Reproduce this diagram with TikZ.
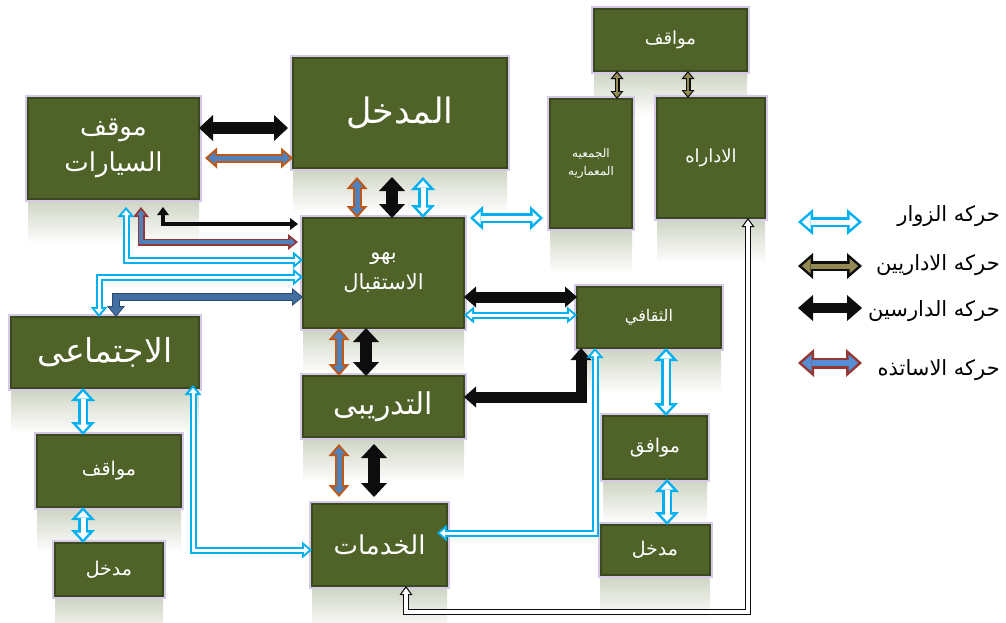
\documentclass[tikz,border=0pt]{standalone}
\usepackage{fontspec}
\usepackage{tikz}
\usetikzlibrary{positioning,arrows.meta,backgrounds}
\TeXXeTstate=1
\newfontfamily\arabicfont[Script=Arabic]{DejaVu Sans}
\newcommand\artext[1]{{\arabicfont\beginR#1\endR}}

\definecolor{boxgreen}{RGB}{79,98,40}
\definecolor{boxedge}{RGB}{58,74,28}
\definecolor{glow}{RGB}{214,200,232}
\definecolor{refl}{RGB}{208,214,198}
\definecolor{visitline}{RGB}{0,176,240}
\definecolor{proffill}{RGB}{79,129,189}
\definecolor{profedge}{RGB}{190,88,20}
\definecolor{profred}{RGB}{150,55,52}
\definecolor{keyblue}{RGB}{85,142,213}
\definecolor{steelfill}{RGB}{66,110,162}
\definecolor{steeledge}{RGB}{44,74,112}
\definecolor{khaki}{RGB}{148,138,84}
\definecolor{inkblack}{RGB}{13,13,13}

\tikzset{
  headpair/.style 2 args={arrows={{Triangle[width=#1,length=#2,line width=0pt]}-{Triangle[width=#1,length=#2,line width=0pt]}}},
  % outline, fill, shaft, head width, head length, outline width
  block/.code n args={6}{%
    \pgfmathsetmacro\bkAng{atan((#4/2)/#5)}%
    \pgfmathsetmacro\bkIn{#6/sin(\bkAng)}%
    \pgfmathsetmacro\bkLen{#5-#6-\bkIn}%
    \pgfmathsetmacro\bkWid{2*\bkLen*tan(\bkAng)}%
    \pgfmathsetmacro\bkShaft{#3-2*#6}%
    \tikzset{draw=#1, line width=#3pt, headpair={#4pt}{#5pt},
      postaction={draw=#2, line width=\bkShaft pt, headpair={\bkWid pt}{\bkLen pt},
        shorten <=\bkIn pt, shorten >=\bkIn pt}}%
  }
}

\begin{document}
\begin{tikzpicture}[
        x=1pt, y=-1pt,
        box/.style={draw=boxedge, line width=2pt, fill=boxgreen, text=white, align=center,
            inner sep=0pt, outer sep=0pt, preaction={draw=glow, line width=6pt}},
        legendtext/.style={text=black, font=\fontsize{21}{26}\selectfont, inner sep=0pt},
        visitor/.style={block={visitline}{white}{10}{24}{13}{2.5}},
        visitorthin/.style={block={visitline}{white}{7}{17}{10}{2}},
        student/.style={block={inkblack}{inkblack}{12}{26}{14}{1}},
        studentmid/.style={block={inkblack}{inkblack}{11}{21}{12}{1}},
        studentthin/.style={block={inkblack}{inkblack}{4}{12}{8}{1}},
        prof/.style={block={profedge}{proffill}{9}{21}{12}{2}},
        profthin/.style={block={profred}{proffill}{7}{16}{10}{1.8}},
        steel/.style={block={steeledge}{steelfill}{8}{18}{11}{1}},
        staff/.style={block={inkblack}{khaki}{5}{13}{8}{1.2}},
        staffwhite/.style={block={inkblack}{white}{6}{13}{9}{1.2}},
        visitorkey/.style={block={visitline}{white}{10}{26}{15}{2.5}},
        adminkey/.style={block={inkblack}{khaki}{10}{26}{15}{2.5}},
        studentkey/.style={block={inkblack}{inkblack}{10}{26}{15}{1}},
        profkey/.style={block={profred}{keyblue}{11}{28}{16}{2.5}}
    ]
    \useasboundingbox (0,0) rectangle (1006,622);

    % Main halls
    \node[box, minimum width=214pt, minimum height=110pt, font=\fontsize{35}{40}\selectfont] (entrance) at (400,113) {\artext{المدخل}};
    \node[box, minimum width=171pt, minimum height=101pt, font=\fontsize{26}{36}\selectfont] (parking) at (113.5,148.5) {\artext{موقف}\\\artext{السيارات}};
    \node[box, minimum width=161pt, minimum height=110pt, font=\fontsize{21}{30}\selectfont] (lobby) at (383.5,273) {\artext{بهو}\\\artext{الاستقبال}};
    \node[box, minimum width=161pt, minimum height=61pt, font=\fontsize{30}{34}\selectfont, below=48pt of lobby] (training) {\artext{التدريبى}};
    \node[box, minimum width=135pt, minimum height=82pt, font=\fontsize{26}{30}\selectfont] (services) at (379.5,545) {\artext{الخدمات}};

    % Right wing
    \node[box, minimum width=153pt, minimum height=62pt, font=\fontsize{18}{22}\selectfont] (topparking) at (670.5,40) {\artext{مواقف}};
    \node[box, minimum width=82pt, minimum height=129pt, font=\fontsize{12}{18}\selectfont] (society) at (591,163.5) {\artext{الجمعيه}\\\artext{المعماريه}};
    \node[box, minimum width=108pt, minimum height=120pt, font=\fontsize{18}{20}\selectfont] (admin) at (711,158) {\artext{الاداراه}};
    \node[box, minimum width=144pt, minimum height=61pt, font=\fontsize{16}{20}\selectfont] (culture) at (649,317.5) {\artext{الثقافي}};
    \node[box, minimum width=104pt, minimum height=63pt, font=\fontsize{19}{22}\selectfont] (parkingR) at (655,447.5) {\artext{موافق}};
    \node[box, minimum width=109pt, minimum height=50pt, font=\fontsize{19}{22}\selectfont, below=46pt of parkingR] (entranceR) {\artext{مدخل}};

    % Left wing
    \node[box, minimum width=188pt, minimum height=71pt, font=\fontsize{33}{36}\selectfont] (social) at (105,352.5) {\artext{الاجتماعى}};
    \node[box, minimum width=144pt, minimum height=72pt, font=\fontsize{19}{22}\selectfont] (parkingL) at (109,471) {\artext{مواقف}};
    \node[box, minimum width=108pt, minimum height=53pt, font=\fontsize{19}{22}\selectfont, below=36pt of parkingL] (entranceL) {\artext{مدخل}};

    % Reflections under the boxes
    \begin{scope}[on background layer]
        \foreach \b in {entrance, parking, lobby, training, services, topparking, society,
                        admin, culture, parkingR, entranceR, social, parkingL, entranceL}
            \shade[top color=refl, bottom color=white] ([yshift=-3pt]\b.south west) rectangle ([yshift=-45pt]\b.south east);
    \end{scope}

    % Parking and entrance
    \draw[student] ([yshift=20.5pt]parking.east) -- ([xshift=-5pt,yshift=20.5pt]parking.east -| entrance.west);
    \draw[prof] ([xshift=6pt,yshift=-9.5pt]parking.east) -- ([yshift=-9.5pt]parking.east -| entrance.west);

    % Entrance, lobby, training, services
    \foreach \sty/\dx in {prof/-26.5, student/8.5, visitor/39.5}
        \draw[\sty] ([xshift=\dx pt]lobby.north) -- ([xshift=\dx pt,yshift=-9pt]lobby.north |- entrance.south);
    \foreach \sty/\dx in {prof/-44.5, student/-17.5}
        \draw[\sty] ([xshift=\dx pt]training.north) -- ([xshift=\dx pt]training.north |- lobby.south);
    \foreach \sty/\dx in {prof/-44.5, student/-9.5}
        \draw[\sty] ([xshift=\dx pt,yshift=-7pt]training.south) -- ([xshift=\dx pt,yshift=7pt]training.south |- services.north);

    % Lobby to the right wing
    \draw[visitor] ([xshift=6pt]lobby.north east) -- ([xshift=-7pt]lobby.north east -| society.west);
    \draw[studentmid] ([yshift=-24pt]lobby.east) -- ([yshift=-24pt]lobby.east -| culture.west);
    \draw[visitorthin] ([yshift=-42pt]lobby.east) -- ([yshift=-42pt]lobby.east -| culture.west);

    % Culture wing
    \draw[studentmid] ([xshift=4pt]culture.south west) |- ([yshift=9.5pt]training.east);
    \draw[visitorthin] ([xshift=18pt]culture.south west) |- ([xshift=-10pt,yshift=12pt]services.east);
    \draw[visitor] ([xshift=17pt]culture.south) -- ([xshift=17pt]culture.south |- parkingR.north);
    \draw[visitor] ([xshift=12pt]parkingR.south) -- ([xshift=12pt]parkingR.south |- entranceR.north);

    % Top parking and admin
    \draw[staff] ([xshift=26pt]society.north) -- ([xshift=26pt]society.north |- topparking.south);
    \draw[staff] ([xshift=-23pt]admin.north) -- ([xshift=-23pt]admin.north |- topparking.south);
    \draw[staffwhite] ([xshift=37pt]admin.south) -- ++(0,394) -| ([xshift=26.5pt]services.south);

    % Left wing
    \draw[visitor] ([xshift=-26pt]parkingL.north) -- ([xshift=-26pt]parkingL.north |- social.south);
    \draw[visitor] ([xshift=-26pt]entranceL.north) -- ([xshift=-26pt]entranceL.north |- parkingL.south);
    \draw[visitorthin] ([xshift=-6pt,yshift=3pt]social.south east) |- ([yshift=-5pt]services.west);

    % Parking and social to lobby
    \draw[studentthin] ([xshift=49.5pt,yshift=-8pt]parking.south) |- ([xshift=-5pt,yshift=49pt]lobby.west);
    \draw[profthin] ([xshift=27.5pt,yshift=-8pt]parking.south) |- ([xshift=-5pt,yshift=31pt]lobby.west);
    \draw[visitorthin] ([xshift=12.5pt,yshift=-8pt]parking.south) |- ([yshift=13pt]lobby.west);
    \draw[visitorthin] ([xshift=-6pt]social.north) |- ([yshift=-4pt]lobby.west);
    \draw[steel] ([xshift=11pt]social.north) |- ([yshift=-24pt]lobby.west);

    % Legend
    \foreach \sty/\txt/\ya/\yt in {visitorkey/حركه الزوار/222/216, adminkey/حركه الاداريين/266/265,
                                  studentkey/حركه الدارسين/308/311, profkey/حركه الاساتذه/363/370} {
        \node[legendtext, anchor=east] (\sty text) at (1000,\yt) {\artext{\txt}};
        \coordinate (\sty a) at (798,\ya);
        \coordinate (\sty b) at (862,\ya);
        \draw[\sty] (\sty a) -- (\sty b);
    }
\end{tikzpicture}
\end{document}
